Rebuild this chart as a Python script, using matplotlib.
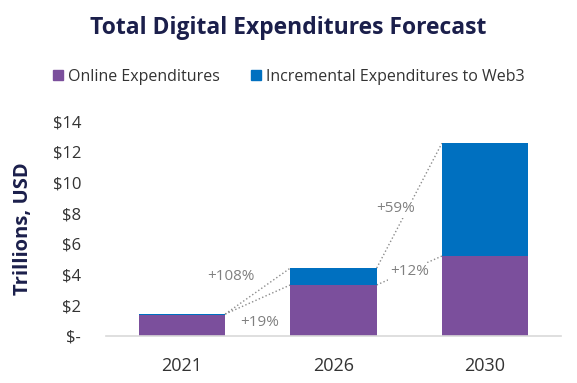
import matplotlib.pyplot as plt
from matplotlib.lines import Line2D

years = ['2021', '2026', '2030']
online = [1.35, 3.32, 5.2]
incremental = [0.07, 1.1, 7.35]
y_ticks = [0, 2, 4, 6, 8, 10, 12, 14]
y_labels = ['$-', '$2', '$4', '$6', '$8', '$10', '$12', '$14']
growth_labels = ['+108%', '+19%', '+59%', '+12%']

purple = '#7B4F9C'
blue = '#0070C0'
navy = '#1B1F4B'
grey_text = '#808080'

plt.rcParams['font.family'] = ['Open Sans', 'DejaVu Sans']

fig = plt.figure(figsize=(5.77, 3.83), dpi=100)
ax = fig.add_axes([0.184, 0.123, 0.788, 0.561])

x = list(range(len(years)))
w = 0.57
totals = [a + b for a, b in zip(online, incremental)]
ax.bar(x, online, width=w, color=purple, zorder=2)
ax.bar(x, incremental, width=w, bottom=online, color=blue, zorder=2)

ax.set_xlim(-0.5, 2.5)
ax.set_ylim(0, 14)
ax.set_xticks(x)
ax.set_xticklabels(years, fontsize=13, color='#333333')
ax.set_yticks(y_ticks)
ax.set_yticklabels(y_labels, fontsize=12, color='#333333')
ax.tick_params(axis='y', length=0, pad=18)
ax.tick_params(axis='x', length=0, pad=15)
for s in ['top', 'right', 'left']:
    ax.spines[s].set_visible(False)
ax.spines['bottom'].set_color('#D9D9D9')
ax.spines['bottom'].set_linewidth(1.2)

ax.set_ylabel('Trillions, USD', fontsize=14.5, fontweight='bold', color=navy, labelpad=14)

# dotted connectors between bars
h = w / 2
dot = dict(color='#8C8C8C', linestyle=':', linewidth=1, zorder=1)
ax.plot([h, 1 - h], [totals[0], totals[1]], **dot)
ax.plot([h, 1 - h], [totals[0], online[1]], **dot)
ax.plot([1 + h, 2 - h], [totals[1], totals[2]], **dot)
ax.plot([1 + h, 2 - h], [online[1], online[2]], **dot)

box = dict(facecolor='white', edgecolor='none', pad=1)
ax.text(0.32, 3.84, growth_labels[0], ha='center', va='center', fontsize=11, color=grey_text)
ax.text(0.51, 0.85, growth_labels[1], ha='center', va='center', fontsize=11, color=grey_text)
ax.text(1.41, 8.27, growth_labels[2], ha='center', va='center', fontsize=11, color=grey_text, bbox=box)
ax.text(1.50, 4.17, growth_labels[3], ha='center', va='center', fontsize=11, color=grey_text, bbox=box)

fig.text(0.5, 0.928, 'Total Digital Expenditures Forecast', ha='center', va='center',
         fontsize=16.5, fontweight='bold', color=navy)

handles = [Line2D([], [], marker='s', linestyle='none', color=purple, markersize=6.5),
           Line2D([], [], marker='s', linestyle='none', color=blue, markersize=6.5)]
fig.legend(handles, ['Online Expenditures', 'Incremental Expenditures to Web3'],
           loc='center', bbox_to_anchor=(0.5, 0.8), ncol=2, frameon=False,
           fontsize=11.5, handlelength=0.7, handletextpad=0.3, columnspacing=1.9,
           labelcolor='#333333')

fig.savefig('out.png', dpi=100)
